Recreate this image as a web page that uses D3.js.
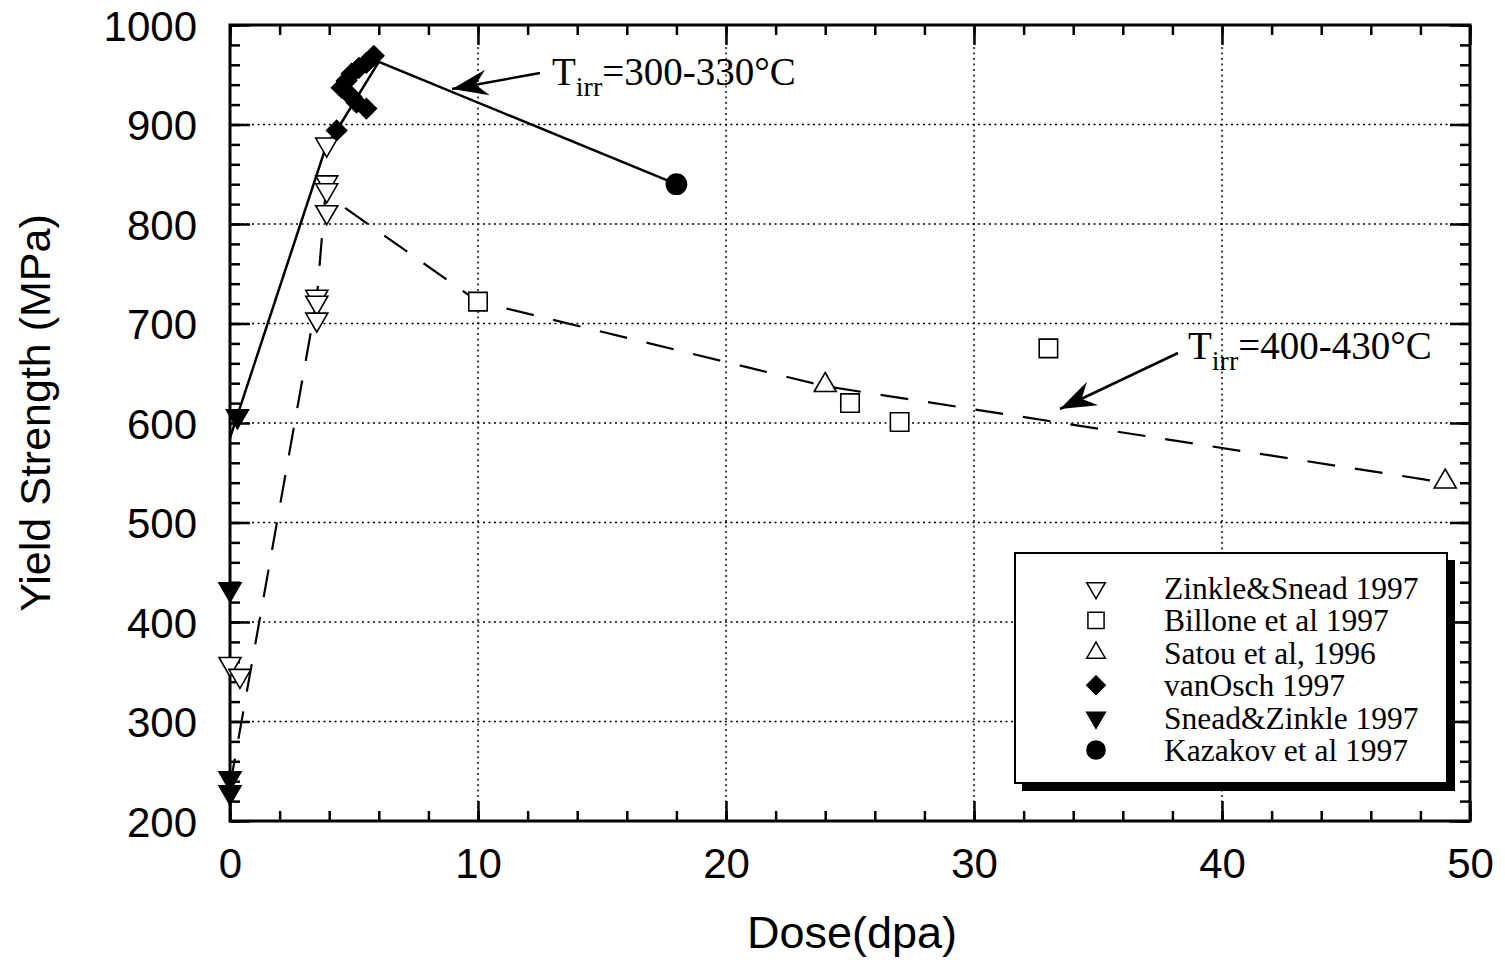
<!DOCTYPE html>
<html><head><meta charset="utf-8">
<script src="https://cdn.jsdelivr.net/npm/d3@7"></script>
<style>body{margin:0;background:#fff}</style>
</head><body><svg id="c" width="1505" height="960"></svg>
<script>
// ---- data ----
const zinkleSnead = [[0,358],[0.4,346],[3.5,727],[3.5,721],[3.5,704],[3.9,880],[3.9,842],[3.9,834],[3.9,812]];
const billone = [[10,722],[25,620],[27,601],[33,675]];
const satou = [[24,638],[49,541]];
const vanOsch = [[4.3,894],[4.5,937],[4.7,944],[4.9,951],[5.2,957],[5.5,962],[5.8,969],[4.9,928],[5.1,922],[5.5,916]];
const sneadZinkle = [[0.3,607],[0,433],[0,243],[0,229]];
const kazakov = [[18,840]];
const trend300 = [[0,585],[3.9,880],[4.3,894],[6,963],[18,840]];
const trend400 = [[0,235],[3.5,725],[3.85,830],[10,722],[24,637],[49,540]];
const xTicks = [0,10,20,30,40,50];
const yTicks = [200,300,400,500,600,700,800,900,1000];
const legendLabels = ["Zinkle&Snead 1997","Billone et al 1997","Satou et al, 1996","vanOsch 1997","Snead&Zinkle 1997","Kazakov et al 1997"];
const xTitle = "Dose(dpa)";
const yTitle = "Yield Strength (MPa)";

// ---- layout ----
const L = 230, R = 1470, T = 25, B = 821;
const svg = d3.select("#c");
const x = d3.scaleLinear().domain([0,50]).range([L,R]);
const y = d3.scaleLinear().domain([200,1000]).range([B,T]);
const SANS = "'Liberation Sans', Arial, sans-serif";
const SERIF = "'Liberation Serif', 'Times New Roman', serif";

// gridlines
const grid = svg.append("g").attr("stroke","#000").attr("stroke-width",1.4).attr("stroke-dasharray","2,3.5");
grid.selectAll("line.gx").data(xTicks.filter(d=>d>0&&d<50)).join("line").attr("class","gx")
  .attr("x1",d=>x(d)).attr("x2",d=>x(d)).attr("y1",T).attr("y2",B);
grid.selectAll("line.gy").data(yTicks.filter(d=>d>200&&d<1000)).join("line").attr("class","gy")
  .attr("y1",d=>y(d)).attr("y2",d=>y(d)).attr("x1",L).attr("x2",R);

// axes
const xMinor = d3.range(0,51,2), yMinor = d3.range(200,1001,20);
function styleAxis(g){ g.select(".domain").remove(); g.selectAll(".tick line").attr("stroke","#000").attr("stroke-width",2.5); }
function noText(g){ g.selectAll(".tick text").remove(); }
svg.append("g").attr("transform",`translate(0,${B})`).call(d3.axisBottom(x).tickValues(xMinor).tickSize(-10)).call(styleAxis).call(noText);
svg.append("g").attr("transform",`translate(0,${T})`).call(d3.axisTop(x).tickValues(xMinor).tickSize(-10)).call(styleAxis).call(noText);
svg.append("g").attr("transform",`translate(${L},0)`).call(d3.axisLeft(y).tickValues(yMinor).tickSize(-10)).call(styleAxis).call(noText);
svg.append("g").attr("transform",`translate(${R},0)`).call(d3.axisRight(y).tickValues(yMinor).tickSize(-10)).call(styleAxis).call(noText);

const xa = svg.append("g").attr("transform",`translate(0,${B})`)
  .call(d3.axisBottom(x).tickValues(xTicks).tickSize(-20).tickPadding(27).tickFormat(d3.format("d"))).call(styleAxis);
xa.selectAll("text").attr("font-family",SANS).attr("font-size",42).attr("fill","#000");
const ya = svg.append("g").attr("transform",`translate(${L},0)`)
  .call(d3.axisLeft(y).tickValues(yTicks).tickSize(-20).tickPadding(33).tickFormat(d3.format("d"))).call(styleAxis);
ya.selectAll("text").attr("font-family",SANS).attr("font-size",42).attr("fill","#000").attr("dy","0.36em");
svg.append("g").attr("transform",`translate(0,${T})`).call(d3.axisTop(x).tickValues(xTicks).tickSize(-20)).call(styleAxis).call(noText);
svg.append("g").attr("transform",`translate(${R},0)`).call(d3.axisRight(y).tickValues(yTicks).tickSize(-20)).call(styleAxis).call(noText);

svg.append("rect").attr("x",L).attr("y",T).attr("width",R-L).attr("height",B-T)
  .attr("fill","none").attr("stroke","#000").attr("stroke-width",3);

// titles
svg.append("text").attr("x",852).attr("y",948).attr("text-anchor","middle")
  .attr("font-family",SANS).attr("font-size",45).text(xTitle);
svg.append("text").attr("transform","translate(50,413) rotate(-90)").attr("text-anchor","middle")
  .attr("font-family",SANS).attr("font-size",43).text(yTitle);

// trend lines
const line = d3.line().x(d=>x(d[0])).y(d=>y(d[1]));
svg.append("path").datum(trend300).attr("d",line).attr("fill","none").attr("stroke","#000").attr("stroke-width",2.5);
svg.append("path").datum(trend400).attr("d",line).attr("fill","none").attr("stroke","#000").attr("stroke-width",2.2).attr("stroke-dasharray","28,20");

// markers
const sym = {
  downOpen: {type:d3.symbolTriangle, size:210, rot:180, fill:"#fff"},
  square: {type:d3.symbolSquare, size:340, rot:0, fill:"#fff"},
  upOpen: {type:d3.symbolTriangle, size:210, rot:0, fill:"#fff"},
  diamond: {type:d3.symbolSquare, size:200, rot:45, fill:"#000"},
  downFill: {type:d3.symbolTriangle, size:210, rot:180, fill:"#000"},
  circle: {type:d3.symbolCircle, size:320, rot:0, fill:"#000"}
};
const series = [
  {data:zinkleSnead, s:sym.downOpen},
  {data:billone, s:sym.square},
  {data:satou, s:sym.upOpen},
  {data:vanOsch, s:sym.diamond},
  {data:sneadZinkle, s:sym.downFill},
  {data:kazakov, s:sym.circle}
];
series.forEach(se=>{
  svg.append("g").selectAll("path").data(se.data).join("path")
    .attr("d",d3.symbol().type(se.s.type).size(se.s.size))
    .attr("transform",d=>`translate(${x(d[0])},${y(d[1])}) rotate(${se.s.rot})`)
    .attr("fill",se.s.fill).attr("stroke","#000").attr("stroke-width",1.6);
});

// annotations
function arrow(x1,y1,x2,y2){
  svg.append("line").attr("x1",x1).attr("y1",y1).attr("x2",x2).attr("y2",y2).attr("stroke","#000").attr("stroke-width",2.5);
  const dx=x2-x1, dy=y2-y1, len=Math.hypot(dx,dy), ux=dx/len, uy=dy/len, nx=-uy, ny=ux;
  const Lh=36, W=13, N=24;
  const pts=[[x2,y2],[x2-Lh*ux+W*nx,y2-Lh*uy+W*ny],[x2-N*ux,y2-N*uy],[x2-Lh*ux-W*nx,y2-Lh*uy-W*ny]];
  svg.append("path").attr("d","M"+pts.map(p=>p.join(",")).join("L")+"Z").attr("fill","#000");
}
function tirr(x0,yb,rest){
  const t=svg.append("text").attr("x",x0).attr("y",yb).attr("font-family",SERIF).attr("font-size",39);
  t.append("tspan").text("T");
  t.append("tspan").attr("dy",11).attr("font-size",28).text("irr");
  t.append("tspan").attr("dy",-11).text(rest);
}
arrow(540,73,452,89);
tirr(552,85,"=300-330°C");
arrow(1178,353,1060,409);
tirr(1188,359,"=400-430°C");

// legend
const lg = svg.append("g");
lg.append("rect").attr("x",1022).attr("y",560).attr("width",433).attr("height",231).attr("fill","#000");
lg.append("rect").attr("x",1015).attr("y",553).attr("width",432).attr("height",230).attr("fill","#fff").attr("stroke","#000").attr("stroke-width",2);
const lsyms=[
  {type:d3.symbolTriangle, size:150, rot:180, fill:"#fff"},
  {type:d3.symbolSquare, size:260, rot:0, fill:"#fff"},
  {type:d3.symbolTriangle, size:150, rot:0, fill:"#fff"},
  {type:d3.symbolSquare, size:170, rot:45, fill:"#000"},
  {type:d3.symbolTriangle, size:150, rot:180, fill:"#000"},
  {type:d3.symbolCircle, size:260, rot:0, fill:"#000"}
];
legendLabels.forEach((lab,i)=>{
  const cy=588+i*32.4;
  lg.append("path").attr("d",d3.symbol().type(lsyms[i].type).size(lsyms[i].size))
    .attr("transform",`translate(1096,${cy}) rotate(${lsyms[i].rot})`)
    .attr("fill",lsyms[i].fill).attr("stroke","#000").attr("stroke-width",1.5);
  lg.append("text").attr("x",1164).attr("y",cy+11).attr("font-family",SERIF).attr("font-size",31.5).text(lab);
});
</script></body></html>
